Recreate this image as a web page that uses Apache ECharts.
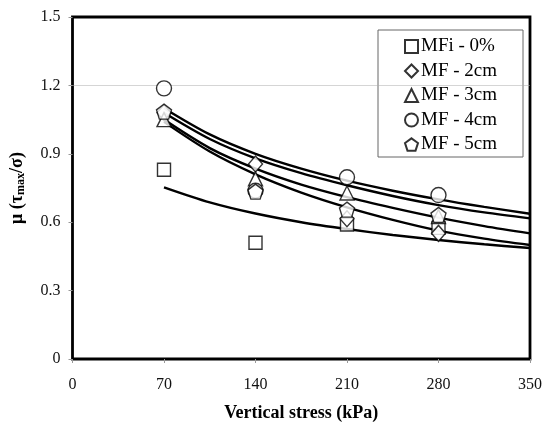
<!DOCTYPE html>
<html>
<head>
<meta charset="utf-8">
<script src="https://cdn.jsdelivr.net/npm/echarts@6/dist/echarts.min.js"></script>
<style>
  html, body { margin: 0; padding: 0; background: #fff; }
  #chart { width: 545px; height: 430px; }
</style>
</head>
<body>
<div id="chart"></div>
<script>
// Vertical stress levels (kPa)
const stress = [70, 140, 210, 280];

// Friction coefficient mu = tau_max / sigma for each mix
const mfi0 = [0.83, 0.51, 0.59, 0.575];
const mf2 = [1.08, 0.855, 0.615, 0.551];
const mf3 = [1.05, 0.79, 0.728, 0.625];
const mf4 = [1.187, 0.738, 0.797, 0.719];
const mf5 = [1.085, 0.734, 0.655, 0.632];

// Trend curves sampled along the stress axis
const trendX = [70, 105, 140, 175, 210, 245, 280, 315, 350];
const trendA = [1.10, 0.985, 0.90, 0.835, 0.782, 0.738, 0.70, 0.667, 0.637];
const trendB = [1.08, 0.965, 0.88, 0.815, 0.762, 0.715, 0.675, 0.643, 0.617];
const trendC = [1.05, 0.925, 0.835, 0.765, 0.71, 0.663, 0.62, 0.583, 0.551];
const trendD = [1.04, 0.91, 0.81, 0.73, 0.665, 0.61, 0.563, 0.528, 0.50];
const trendE = [0.753, 0.687, 0.638, 0.60, 0.57, 0.544, 0.522, 0.503, 0.487];

const seriesNames = ['MFi - 0%', 'MF - 2cm', 'MF - 3cm', 'MF - 4cm', 'MF - 5cm'];

const pentagon = 'path://M0,-10 L9.51,-3.09 L5.88,8.09 L-5.88,8.09 L-9.51,-3.09 Z';

const FONT = '"Liberation Serif", "Times New Roman", serif';

function pairs(xs, ys) {
  return xs.map((x, i) => [x, ys[i]]);
}

function trend(ys) {
  return {
    type: 'line',
    data: pairs(trendX, ys),
    smooth: 0.3,
    symbol: 'none',
    silent: true,
    z: 1,
    lineStyle: { color: '#000', width: 2.4 }
  };
}

function points(name, ys, symbol, size) {
  return {
    name: name,
    type: 'scatter',
    data: pairs(stress, ys),
    symbol: symbol,
    symbolSize: size,
    z: 5,
    itemStyle: { color: '#fff', borderColor: '#000', borderWidth: 1.4 }
  };
}

const chart = echarts.init(document.getElementById('chart'), null, { renderer: 'canvas' });

chart.setOption({
  animation: false,
  backgroundColor: '#fff',
  grid: {
    left: 72, right: 13, top: 17, bottom: 71,
    show: true, borderColor: '#000', borderWidth: 2.8
  },
  legend: {
    orient: 'vertical',
    left: 378, top: 30,
    padding: [7, 26, 3, 26],
    itemGap: 5.5,
    itemWidth: 13, itemHeight: 13,
    borderColor: '#666', borderWidth: 1,
    data: seriesNames,
    textStyle: { fontFamily: FONT, fontSize: 19, color: '#000', padding: [0, 0, 0, -2] }
  },
  xAxis: {
    type: 'value',
    min: 0, max: 350, interval: 70,
    axisLine: { show: false },
    axisTick: { show: true, length: 4, lineStyle: { color: '#999' } },
    splitLine: { show: false },
    axisLabel: { fontFamily: FONT, fontSize: 16, color: '#111', margin: 18 },
    name: 'Vertical stress (kPa)',
    nameLocation: 'middle',
    nameGap: 45,
    nameTextStyle: { fontFamily: FONT, fontSize: 18, fontWeight: 'bold', color: '#000' }
  },
  yAxis: {
    type: 'value',
    min: 0, max: 1.5, interval: 0.3,
    axisLine: { show: false },
    axisTick: { show: true, length: 4, lineStyle: { color: '#999' } },
    splitLine: { show: false },
    axisLabel: { fontFamily: FONT, fontSize: 16, color: '#111', margin: 12 },
    name: '{a|μ (τ}{s|max}{a|/σ)}',
    nameLocation: 'middle',
    nameGap: 46,
    nameTextStyle: {
      rich: {
        a: { fontFamily: FONT, fontSize: 18, fontWeight: 'bold', color: '#000' },
        s: { fontFamily: FONT, fontSize: 12, fontWeight: 'bold', color: '#000', padding: [7, 0, 0, 0] }
      }
    }
  },
  series: [
    trend(trendA), trend(trendB), trend(trendC), trend(trendD), trend(trendE),
    Object.assign(points(seriesNames[0], mfi0, 'rect', 13), {
      markLine: {
        silent: true, symbol: 'none', label: { show: false },
        lineStyle: { color: '#aaa', type: 'dotted', width: 1 },
        data: [{ yAxis: 1.2 }]
      }
    }),
    points(seriesNames[1], mf2, 'diamond', [14, 16]),
    points(seriesNames[2], mf3, 'triangle', 14),
    points(seriesNames[3], mf4, 'circle', 15),
    points(seriesNames[4], mf5, pentagon, 15)
  ]
});
</script>
</body>
</html>
